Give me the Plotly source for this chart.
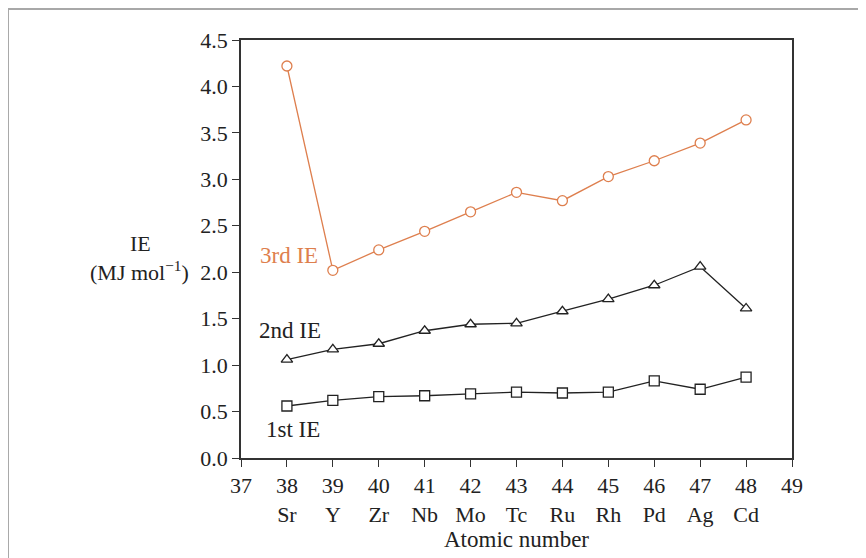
import plotly.graph_objects as go

atomic_numbers = [38, 39, 40, 41, 42, 43, 44, 45, 46, 47, 48]
symbols = ["Sr", "Y", "Zr", "Nb", "Mo", "Tc", "Ru", "Rh", "Pd", "Ag", "Cd"]
ie1 = [0.56, 0.62, 0.66, 0.67, 0.69, 0.71, 0.70, 0.71, 0.83, 0.74, 0.87]
ie2 = [1.06, 1.17, 1.23, 1.37, 1.44, 1.45, 1.58, 1.71, 1.86, 2.06, 1.61]
ie3 = [4.22, 2.02, 2.24, 2.44, 2.65, 2.86, 2.77, 3.03, 3.20, 3.39, 3.64]
x_tick_vals = list(range(37, 50))
y_tick_vals = [0.0, 0.5, 1.0, 1.5, 2.0, 2.5, 3.0, 3.5, 4.0, 4.5]

ORANGE = "#DE7F4E"
FONT = "Liberation Serif"
TXT = "#222222"

sym_map = dict(zip(atomic_numbers, symbols))
x_tick_text = [f"{v}<br>{sym_map[v]}" if v in sym_map else f"{v}<br> " for v in x_tick_vals]

fig = go.Figure()

def add_series(y, color, symbol):
    fig.add_trace(go.Scatter(
        x=atomic_numbers, y=y, mode="lines+markers",
        line=dict(color=color, width=1.3),
        marker=dict(symbol=symbol, size=10, color="white",
                    line=dict(color=color, width=1.3)),
        showlegend=False, cliponaxis=False,
    ))

add_series(ie1, TXT, "square")
add_series(ie2, TXT, "triangle-up")
add_series(ie3, ORANGE, "circle")

ann_font = dict(family=FONT, size=22, color=TXT)
def label(x, y, text, font, xanchor="center"):
    fig.add_annotation(x=x, y=y, xref="paper", yref="paper", text=text,
                       xanchor=xanchor, yanchor="middle",
                       showarrow=False, font=font)

label(0.0871, 0.4856, "3rd IE", dict(family=FONT, size=23, color=ORANGE))
label(0.0889, 0.306, "2nd IE", dict(family=FONT, size=23, color=TXT))
label(0.0944, 0.067, "1st IE", dict(family=FONT, size=23, color=TXT))
label(-0.1815, 0.514, "IE", ann_font)
label(-0.0907, 0.447, "(MJ mol<sup>−1</sup>)", ann_font, xanchor="right")

# outer page frame (top and left lines)
fig.add_shape(type="line", xref="paper", yref="paper",
              x0=-0.4229, y0=1.0742, x1=1.16, y1=1.0742,
              line=dict(color="#A8A8A8", width=2))
fig.add_shape(type="line", xref="paper", yref="paper",
              x0=-0.4229, y0=1.0742, x1=-0.4229, y1=-0.26,
              line=dict(color="#A8A8A8", width=2))

axis_common = dict(showgrid=False, zeroline=False, showline=True, mirror=True,
                   linecolor="#333333", linewidth=1.5, ticks="outside",
                   ticklen=7, tickcolor="#333333", tickwidth=1.3,
                   tickfont=dict(family=FONT, size=22, color=TXT))

fig.update_xaxes(range=[37, 49], tickvals=x_tick_vals, ticktext=x_tick_text,
                 title=dict(text="Atomic number", font=dict(family=FONT, size=23, color=TXT),
                            standoff=0),
                 **axis_common)
fig.update_yaxes(range=[0, 4.5], tickvals=y_tick_vals,
                 ticktext=[f"{v:.1f}" for v in y_tick_vals], **axis_common)

fig.update_layout(
    width=866, height=558,
    margin=dict(l=233, r=82, t=32, b=108, autoexpand=False),
    paper_bgcolor="white", plot_bgcolor="white",
    font=dict(family=FONT),
)

fig.write_html("out.html")
